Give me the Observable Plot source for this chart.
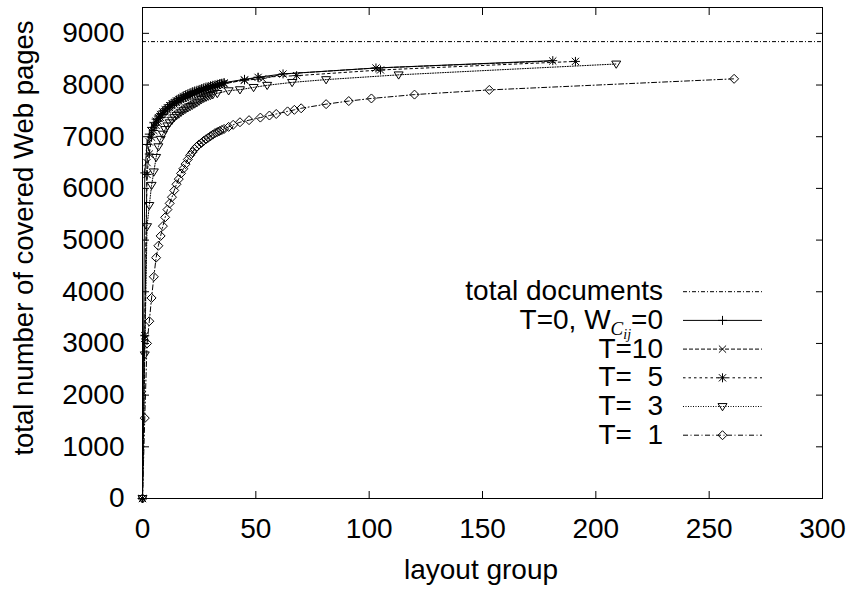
<!DOCTYPE html>
<html><head><meta charset="utf-8">
<script src="https://cdn.jsdelivr.net/npm/d3@7"></script>
<script src="https://cdn.jsdelivr.net/npm/@observablehq/plot@0.6"></script>
<style>
html,body{margin:0;padding:0;background:#fff;}
svg{display:block;}
</style></head><body><div id="chart"></div>
<script>
// ---- data ----
const xTicks = [0, 50, 100, 150, 200, 250, 300];
const yTicks = [0, 1000, 2000, 3000, 4000, 5000, 6000, 7000, 8000, 9000];
const totalDocuments = 8840;

const legendLabels = ["total documents", "T=0, W", "T=10", "T=  5", "T=  3", "T=  1"];

const t0X = [0,1,2,3,4,5,6,7,8,9,10,11,12,13,14,15,16,17,18,19,20,21,22,23,24,25,26,27,28,29,30,31,32,33,34,35,36,45,51,62,103,181];
const t0Y = [0,6300,6850,7050,7180,7270,7340,7400,7450,7500,7540,7580,7620,7650,7680,7710,7740,7760,7790,7810,7830,7850,7870,7885,7900,7915,7930,7945,7960,7970,7985,7995,8005,8015,8025,8035,8045,8110,8150,8215,8330,8472];

const t10X = [0,1,2,3,4,5,6,7,8,9,10,11,12,13,14,15,16,17,18,19,20,21,22,23,24,25,26,27,28,29,30,31,32,33,34,35,36,45,53,62,103,181];
const t10Y = [0,3100,6500,6900,7100,7220,7300,7370,7430,7480,7520,7560,7600,7630,7660,7690,7720,7740,7770,7790,7810,7830,7850,7865,7880,7895,7910,7925,7940,7955,7965,7975,7985,7995,8005,8015,8025,8095,8120,8213,8329,8465];

const t5X = [0,1,2,3,4,5,6,7,8,9,10,11,12,13,14,15,16,17,18,19,20,21,22,23,24,25,26,27,28,29,30,31,32,33,34,35,36,45,51,68,105,191];
const t5Y = [0,3150,6270,6665,6990,7120,7220,7300,7370,7430,7480,7520,7560,7600,7630,7660,7690,7715,7740,7760,7780,7800,7820,7840,7860,7875,7890,7905,7920,7935,7950,7965,7980,7995,8010,8025,8040,8097,8148,8181,8291,8457];

const t3X = [0,1,2,3,4,5,6,7,8,9,10,11,12,13,14,15,16,17,18,19,20,21,22,23,24,25,26,27,28,29,30,31,33,38,43,49,55,66,81,113,209];
const t3Y = [0,2780,5260,5670,6060,6320,6600,6806,6950,7050,7140,7210,7270,7320,7370,7410,7440,7475,7505,7535,7560,7585,7610,7635,7660,7690,7720,7745,7765,7785,7800,7815,7838,7890,7910,7954,7995,8051,8105,8197,8407];

const t1X = [0,1,2,3,4,5,6,7,8,9,10,11,12,13,14,15,16,17,18,19,20,21,22,23,24,25,26,27,28,29,30,31,32,33,34,35,36,38,40,43,47,52,56,59,64,67,70,81,91,101,120,153,261];
const t1Y = [0,1556,3000,3430,3880,4290,4660,4890,5080,5270,5440,5590,5710,5830,5960,6080,6180,6290,6380,6470,6560,6640,6700,6760,6810,6850,6880,6920,6950,6980,7010,7040,7070,7090,7110,7130,7150,7190,7230,7280,7320,7370,7410,7440,7490,7520,7550,7630,7690,7740,7815,7905,8120];

// ---- symbols (gnuplot-like) ----
const rOf = size => Math.sqrt(size / Math.PI);
const plusSym = {draw(c, s){const r=rOf(s); c.moveTo(-r,0); c.lineTo(r,0); c.moveTo(0,-r); c.lineTo(0,r);}};
const timesSym = {draw(c, s){const r=rOf(s)*0.8; c.moveTo(-r,-r); c.lineTo(r,r); c.moveTo(-r,r); c.lineTo(r,-r);}};
const starSym = {draw(c, s){plusSym.draw(c,s); timesSym.draw(c,s);}};
const invTriSym = {draw(c, s){const r=rOf(s); c.moveTo(-r,-r*0.65); c.lineTo(r,-r*0.65); c.lineTo(0,r*0.95); c.closePath();}};
const diamondSym = {draw(c, s){const r=rOf(s); c.moveTo(0,-r); c.lineTo(r,0); c.lineTo(0,r); c.lineTo(-r,0); c.closePath();}};

const series = [
  {xs: t0X, ys: t0Y, dash: null, sym: plusSym},
  {xs: t10X, ys: t10Y, dash: "4,2", sym: timesSym},
  {xs: t5X, ys: t5Y, dash: "2.5,3", sym: starSym},
  {xs: t3X, ys: t3Y, dash: "1,1.5", sym: invTriSym},
  {xs: t1X, ys: t1Y, dash: "5,2.5,1,2.5", sym: diamondSym}
];
const totalDash = "4,2,1,2";
const R = 4.5;

const font = "'Liberation Sans', Arial, Helvetica, sans-serif";
const fmt = d => String(d);

const seriesMarks = series.flatMap(s => {
  const rows = s.xs.map((x, i) => ({x, y: s.ys[i]}));
  return [
    Plot.line(rows, {x: "x", y: "y", stroke: "black", strokeWidth: 1, strokeDasharray: s.dash}),
    Plot.dot(rows, {x: "x", y: "y", symbol: s.sym, r: R, stroke: "black", fill: "none", strokeWidth: 1})
  ];
});

const chart = Plot.plot({
  width: 846, height: 592,
  marginLeft: 142, marginRight: 24, marginTop: 7, marginBottom: 94,
  style: {fontFamily: font, fontSize: "28px", color: "black", background: "white", overflow: "visible"},
  x: {domain: [0, 300]},
  y: {domain: [0, 9500]},
  marks: [
    Plot.ruleY([totalDocuments], {stroke: "black", strokeWidth: 1, strokeDasharray: totalDash}),
    ...seriesMarks,
    Plot.frame({stroke: "black", strokeWidth: 1}),
    Plot.axisY(yTicks, {anchor: "left", tickSize: -7, tickPadding: 25, label: null, tickFormat: fmt, fontSize: 28}),
    Plot.axisY(yTicks, {anchor: "right", tickSize: -7, fill: "none", label: null}),
    Plot.axisX(xTicks, {anchor: "bottom", tickSize: -7, tickPadding: 27, label: null, tickFormat: fmt, fontSize: 28}),
    Plot.axisX(xTicks, {anchor: "top", tickSize: -7, fill: "none", label: null})
  ]
});
document.getElementById("chart").appendChild(chart);

// ---- titles and legend ----
const svg = d3.select(chart);
svg.append("text").attr("x", 481).attr("y", 579).attr("text-anchor", "middle")
  .attr("font-family", font).attr("font-size", 28).attr("fill", "black").text("layout group");
svg.append("text").attr("transform", "translate(33,238) rotate(-90)").attr("text-anchor", "middle")
  .attr("font-family", font).attr("font-size", 27.5).attr("fill", "black").text("total number of covered Web pages");

const lg = svg.append("g").attr("font-family", font).attr("font-size", 28).attr("fill", "black");
const legendEntries = [
  {dash: totalDash, sym: null},
  ...series.map(s => ({dash: s.dash, sym: s.sym}))
];
legendEntries.forEach((e, i) => {
  const y = 291.7 + i * 28.7;
  const t = lg.append("text").attr("x", 663).attr("y", y + 8.5).attr("text-anchor", "end");
  if (i === 1) {
    t.append("tspan").text(legendLabels[i]);
    t.append("tspan").attr("font-family", "'Liberation Serif', 'Times New Roman', serif").attr("font-style", "italic")
      .attr("font-size", 19).attr("dy", 6).text("C");
    t.append("tspan").attr("font-family", "'Liberation Serif', 'Times New Roman', serif").attr("font-style", "italic")
      .attr("font-size", 14).attr("dy", 4).text("ij");
    t.append("tspan").attr("dy", -10).text("=0");
  } else {
    t.text(legendLabels[i]);
  }
  lg.append("line").attr("x1", 683).attr("x2", 762).attr("y1", y).attr("y2", y)
    .attr("stroke", "black").attr("stroke-width", 1).attr("stroke-dasharray", e.dash);
  if (e.sym) {
    lg.append("path").attr("transform", `translate(722.5,${y})`)
      .attr("d", d3.symbol(e.sym, Math.PI * R * R)()).attr("fill", "none").attr("stroke", "black").attr("stroke-width", 1);
  }
});
</script>
</body></html>
